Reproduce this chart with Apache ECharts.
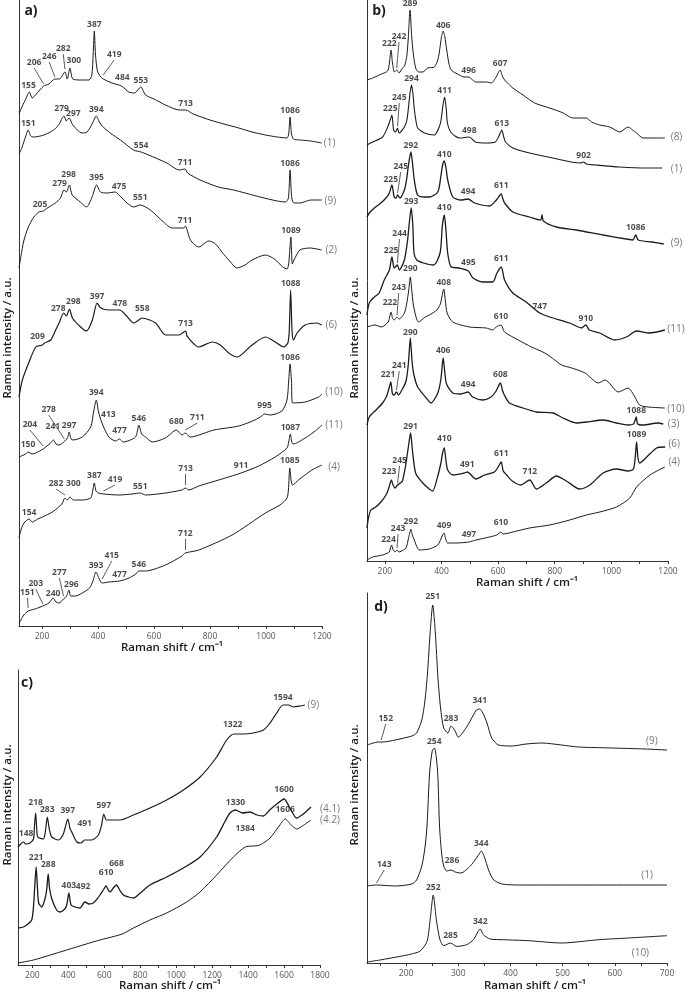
<!DOCTYPE html>
<html><head><meta charset="utf-8">
<script src="https://cdn.jsdelivr.net/npm/echarts@6/dist/echarts.min.js"></script>
<style>html,body{margin:0;padding:0;background:#fff}#c{width:685px;height:993px}</style>
</head><body><div id="c"></div>
<script>
// ---------- Panel a ----------
const aTicks = [200,400,600,800,1000,1200];
const aTickMarks = [200,300,400,500,600,700,800,900,1000,1100,1200];
const a1 = [[118,512],[130,520],[142,527],[155,534],[165,528],[180,532],[206,540],[225,542],[246,547],[262,547],[282,554],[290,547],[300,558],[310,547],[340,546],[368,546],[378,551],[383,572],[387,595],[391,572],[398,555],[410,549],[419,547],[450,543],[484,540],[510,534],[530,533],[553,539],[570,531],[600,527],[641,521],[690,516],[713,516],[740,512],[800,506],[850,502],[903,498],[950,494],[998,491],[1040,489],[1075,488],[1081,492],[1086,509],[1091,492],[1098,487],[1122,486],[1160,485],[1199,483]];
const a9 = [[118,472],[128,478],[140,488],[151,496],[160,490],[171,489],[207,491],[242,496],[262,502],[272,508],[279,510],[287,505],[297,508],[310,501],[343,493],[361,494],[379,502],[394,510],[405,504],[415,500],[444,493],[480,486],[527,476],[554,474],[581,471],[646,463],[690,456],[711,457],[720,453],[765,446],[830,439],[884,436],[979,429],[1040,425],[1070,424],[1080,428],[1086,456],[1092,428],[1100,423],[1121,423],[1160,426],[1199,426]];
const a2 = [[118,358],[125,370],[135,385],[150,398],[171,409],[189,414],[205,415],[219,418],[248,423],[266,428],[279,436],[287,434],[298,441],[308,431],[337,424],[359,419],[379,429],[395,441],[409,434],[432,433],[462,434],[475,431],[504,423],[527,419],[551,421],[587,416],[634,404],[665,398],[706,398],[712,400],[730,386],[760,379],[796,385],[820,382],[845,373],[867,366],[897,358],[925,361],[950,366],[998,371],[1030,367],[1060,359],[1075,357],[1081,362],[1089,389],[1094,362],[1100,366],[1121,376],[1157,378],[1199,376]];
const a6 = [[118,229],[130,246],[154,264],[178,279],[202,281],[209,283],[231,286],[249,296],[261,303],[278,313],[287,310],[298,317],[309,308],[338,299],[359,295],[380,306],[397,323],[410,318],[439,316],[478,316],[499,311],[528,303],[546,306],[558,308],[606,303],[641,291],[689,291],[713,295],[718,290],[760,279],[808,284],[837,281],[867,273],[897,269],[950,281],[998,289],[1033,284],[1063,279],[1078,283],[1083,295],[1088,336],[1093,295],[1098,286],[1111,293],[1140,301],[1182,303],[1199,301]];
const a10 = [[118,169],[142,172],[150,174],[165,172],[178,173],[204,177],[231,183],[241,186],[250,182],[261,181],[278,184],[291,188],[297,194],[304,187],[311,186],[344,189],[374,199],[385,215],[394,226],[402,214],[413,204],[425,196],[439,189],[463,185],[477,187],[490,184],[534,189],[546,201],[556,192],[570,189],[594,184],[641,188],[680,196],[700,191],[711,193],[730,189],[814,196],[903,200],[960,206],[985,210],[995,212],[1015,211],[1057,215],[1075,226],[1081,245],[1086,262],[1091,245],[1095,223],[1140,224],[1188,229],[1200,232]];
const a11 = [[118,88],[126,97],[136,103],[154,107],[166,104],[185,107],[202,109],[237,114],[260,119],[273,123],[282,128],[290,126],[300,129],[312,126],[344,126],[374,128],[381,135],[387,143],[393,135],[402,133],[419,132],[475,131],[522,132],[551,133],[570,131],[641,133],[700,136],[713,138],[724,136],[760,140],[855,148],[911,153],[974,160],[1033,169],[1075,178],[1081,184],[1087,192],[1092,184],[1097,182],[1140,188],[1176,195],[1200,201]];
const a4 = [[118,3],[125,6],[135,11],[151,15],[175,17],[203,20],[225,23],[240,28],[250,24],[261,23],[277,27],[288,30],[296,36],[303,30],[320,30],[344,33],[370,38],[382,45],[393,54],[403,48],[415,43],[440,44],[477,45],[511,48],[535,52],[546,55],[570,55],[641,61],[700,70],[712,73],[760,76],[879,91],[998,113],[1050,121],[1075,128],[1080,136],[1085,158],[1090,145],[1095,141],[1116,146],[1164,156],[1200,161]];
const aPeakLabels = [
 ['155',152,540],['206',172,563,206,541],['246',226,569,246,548],['282',276,577,282,556],['300',314,565],['387',387,601],['419',458,571,419,550],['484',487,548],['553',553,545],['713',713,522],['1086',1086,515],
 ['151',151,502],['279',270,517],['297',312,512],['394',394,516],['554',554,480],['711',711,463],['1086',1086,462],
 ['298',295,451],['279',263,442],['395',395,448],['475',475,439],['551',551,428],['205',193,421],['711',711,405],['1089',1089,395],
 ['1088',1088,342],['397',397,329],['298',312,324],['278',258,317],['478',478,322],['558',558,317],['713',713,302],['209',184,289],
 ['1086',1086,268],['394',394,233],['278',224,216,280,186],['413',437,211],['546',546,207],['680',680,204],['711',755,208,711,195],['995',995,220],['204',157,201,204,179],['241',239,199],['297',297,200],['477',477,195],['150',150,181],
 ['1087',1087,198],['911',911,160],['713',713,157,713,140],['387',387,150],['419',461,146,419,134],['551',551,139],['282',250,142,282,130],['300',312,142],['154',154,113],
 ['1085',1085,165],['712',712,92,712,75],['415',449,70,415,46],['393',393,60],['546',546,61],['477',477,51],['277',262,53,277,29],['296',305,41],['203',178,42,203,21],['240',240,32],['151',148,33,151,17]
];
const aNames = [['(1)',1227,483],['(9)',1230,425],['(2)',1233,376],['(6)',1233,301],['(10)',1243,234],['(11)',1243,201],['(4)',1243,159]];

// ---------- Panel b ----------
const bTicks = [200,400,600,800,1000,1200];
const bTickMarks = [200,300,400,500,600,700,800,900,1000,1100,1200];
const b8 = [[137,481],[157,483],[180,486],[205,489],[212,491],[217,500],[222,511],[227,498],[234,489],[242,491],[250,488],[262,493],[270,495],[278,506],[283,524],[289,551],[295,524],[301,506],[310,492],[320,489],[334,489],[351,493],[375,494],[388,502],[395,514],[400,524],[406,530],[412,524],[418,512],[426,498],[434,491],[463,486],[480,484],[496,484],[510,481],[522,479],[558,479],[576,478],[593,484],[600,488],[607,491],[615,485],[623,481],[652,473],[688,466],[729,458],[782,453],[830,448],[853,444],[865,443],[912,443],[930,439],[959,436],[994,434],[1030,429],[1059,434],[1075,431],[1089,428],[1112,423],[1160,423],[1189,423]];
const b1 = [[137,416],[157,419],[192,424],[210,434],[219,441],[225,446],[231,431],[238,429],[245,433],[250,428],[269,434],[278,441],[284,455],[289,468],[294,476],[299,468],[304,452],[310,440],[316,433],[340,428],[375,426],[392,434],[398,440],[405,455],[411,464],[417,452],[421,438],[435,428],[465,423],[498,424],[520,419],[560,418],[590,419],[603,425],[613,431],[620,424],[626,419],[652,413],[711,408],[793,403],[890,398],[902,399],[912,397],[945,396],[1030,394],[1120,393],[1180,393]];
const b9 = [[137,344],[145,348],[163,353],[186,358],[204,363],[216,368],[225,376],[233,364],[240,363],[245,366],[253,363],[269,371],[277,382],[284,397],[292,409],[298,397],[304,381],[316,366],[340,364],[357,364],[387,369],[398,385],[404,396],[410,400],[416,393],[422,381],[440,364],[469,361],[494,362],[516,358],[570,355],[594,361],[611,367],[617,362],[623,358],[652,349],[711,344],[750,341],[755,346],[760,340],[806,334],[876,331],[971,326],[1053,322],[1076,321],[1086,326],[1095,321],[1143,319],[1185,317]];
const b11 = [[137,246],[145,258],[163,264],[180,268],[198,281],[216,291],[225,304],[233,293],[244,296],[251,291],[269,301],[280,320],[287,340],[293,353],[299,335],[303,308],[313,301],[336,298],[372,296],[395,308],[403,335],[410,346],[416,330],[422,308],[434,294],[463,293],[495,290],[511,283],[546,279],[581,279],[596,288],[611,294],[623,281],[652,268],[699,259],[747,248],[782,244],[853,238],[895,233],[910,236],[922,231],[959,228],[1012,221],[1053,224],[1089,230],[1130,228],[1160,229],[1189,231]];
const b10 = [[137,234],[165,236],[188,234],[212,239],[217,244],[222,249],[227,243],[233,241],[243,244],[251,242],[269,248],[277,257],[284,270],[290,284],[296,268],[302,254],[319,239],[343,244],[357,246],[384,251],[396,257],[402,265],[408,272],[414,260],[420,248],[440,239],[499,234],[558,233],[581,231],[593,234],[610,236],[623,229],[671,221],[718,214],[765,208],[800,201],[824,196],[860,193],[907,188],[954,178],[978,181],[1025,169],[1059,173],[1083,164],[1100,156],[1130,154],[1189,153]];
const b3 = [[137,136],[145,144],[169,151],[192,158],[205,164],[210,168],[216,174],[221,179],[227,167],[233,166],[241,169],[248,166],[262,172],[275,180],[283,197],[290,223],[296,200],[302,187],[316,174],[346,163],[363,158],[387,168],[398,182],[406,203],[412,188],[418,177],[440,168],[469,167],[494,169],[510,164],[546,161],[575,164],[593,170],[608,178],[615,171],[622,166],[640,158],[688,153],[735,149],[794,148],[829,143],[876,138],[912,139],[971,141],[1018,138],[1060,136],[1078,137],[1083,140],[1088,144],[1093,137],[1112,136],[1165,138],[1183,137]];
const b6 = [[137,33],[142,43],[151,51],[168,54],[186,59],[204,66],[213,72],[218,77],[223,81],[229,76],[236,73],[245,76],[255,78],[262,80],[270,90],[278,104],[285,118],[291,128],[297,112],[303,97],[310,87],[334,78],[357,72],[369,70],[387,85],[398,98],[404,108],[410,113],[416,100],[422,91],[440,86],[481,88],[491,89],[522,82],[552,86],[587,89],[600,94],[611,99],[618,90],[630,86],[650,80],[680,76],[712,81],[735,72],[770,78],[806,85],[841,80],[888,72],[924,76],[971,88],[1018,92],[1060,90],[1078,92],[1084,103],[1089,119],[1094,103],[1100,98],[1125,104],[1160,113],[1190,114]];
const b4 = [[137,1],[157,4],[192,6],[210,8],[216,9],[220,13],[224,16],[228,12],[236,9],[243,11],[250,9],[265,11],[275,13],[283,22],[288,28],[292,32],[297,26],[304,21],[315,13],[322,11],[357,12],[387,16],[398,22],[404,26],[409,28],[415,22],[422,18],[452,18],[497,19],[522,21],[570,24],[595,26],[604,28],[610,29],[618,27],[652,29],[711,33],[782,36],[853,41],[912,46],[959,49],[1018,54],[1065,63],[1089,74],[1136,86],[1189,94]];
const bPeakLabels = [
 ['289',289,557],['406',406,535],['242',250,524,242,492],['222',216,517],['496',496,490],['607',607,497],
 ['294',294,482],['245',251,463,245,434],['411',411,470],['225',219,452],['498',498,430],['613',613,437],['902',902,405],
 ['292',292,415],['410',410,406],['245',256,394,245,367],['225',221,381],['494',494,369],['611',611,375],['1086',1086,333],
 ['293',293,359],['410',410,353],['244',252,327,244,297],['225',222,310],['495',495,298],['611',611,302],['747',747,254],['910',910,242],
 ['290',290,292],['408',408,278],['243',249,273,243,245],['222',218,258],['610',610,244],
 ['290',290,228],['406',406,210],['241',251,195,241,170],['221',211,186],['494',494,176],['608',608,186],['1088',1088,150],
 ['291',291,134],['410',410,122],['245',252,100,245,77],['223',215,89],['491',491,96],['611',611,107],['712',712,89],['1089',1089,126],
 ['292',292,39],['409',409,35],['243',247,32,243,12],['224',213,21],['497',497,26],['610',610,38]
];
const bNames = [['(8)',1230,424],['(1)',1230,392],['(9)',1230,318],['(11)',1228,232],['(10)',1228,152],['(3)',1220,137],['(6)',1222,117],['(4)',1222,99]];

// ---------- Panel c ----------
const cTicks = [200,400,600,800,1000,1200,1400,1600,1800];
const cTickMarks = [200,300,400,500,600,700,800,900,1000,1100,1200,1300,1400,1500,1600,1700,1800];
const c9 = [[120,118],[135,121],[148,123],[165,121],[187,122],[206,126],[212,140],[218,152],[224,137],[230,128],[261,126],[272,133],[283,148],[294,136],[308,128],[345,125],[370,130],[382,137],[397,146],[410,136],[419,133],[447,123],[470,122],[491,125],[530,125],[567,130],[585,140],[597,151],[612,145],[632,145],[688,145],[762,150],[854,157],[947,165],[1040,175],[1133,188],[1225,208],[1281,225],[1322,231],[1370,231],[1429,232],[1485,235],[1522,242],[1559,252],[1594,260],[1625,260],[1652,258],[1690,259],[1716,260]];
const c41 = [[120,37],[150,38],[168,40],[196,45],[206,58],[213,78],[221,98],[228,78],[235,62],[252,58],[270,66],[280,76],[288,91],[296,76],[310,65],[335,55],[354,53],[380,56],[391,60],[403,72],[415,60],[437,58],[465,57],[492,63],[515,61],[539,62],[560,66],[576,70],[598,76],[610,79],[622,75],[632,73],[650,77],[668,80],[685,75],[706,70],[735,68],[762,67],[800,72],[854,80],[947,88],[1040,97],[1133,108],[1225,128],[1270,143],[1299,152],[1330,155],[1370,152],[1410,153],[1450,150],[1485,149],[1520,155],[1560,161],[1600,166],[1630,158],[1670,147],[1700,150],[1726,154],[1750,158]];
const c42 = [[120,2],[206,5],[300,10],[391,15],[500,21],[576,25],[700,31],[762,37],[854,45],[947,52],[1058,63],[1133,73],[1225,90],[1318,108],[1384,118],[1430,119],[1466,120],[1522,127],[1577,140],[1606,146],[1640,140],[1670,136],[1710,140],[1750,145]];
const cPeakLabels = [
 ['148',165,131],['218',218,162],['283',283,155],['397',397,154],['491',491,141],['597',597,159],['1322',1314,240],['1594',1594,267],
 ['221',221,107],['288',288,100],['403',403,79],['492',482,78],['610',610,92],['668',668,101],['1330',1330,162],['1600',1600,175],
 ['1384',1384,136],['1606',1606,155]
];
const cNames = [['(9)',1763,260],['(4.1)',1856,156],['(4.2)',1856,145]];

// ---------- Panel d ----------
const dTicks = [200,300,400,500,600,700];
const dTickMarks = [150,200,250,300,350,400,450,500,550,600,650,700];
const d9 = [[125,218],[147,221],[156,221],[179,223],[211,227],[220,230],[230,243],[236,262],[241,290],[246,330],[251,358],[256,330],[261,285],[266,255],[272,235],[280,230],[286,237],[293,233],[300,226],[316,236],[329,248],[335,253],[341,254],[347,250],[355,240],[364,225],[377,218],[403,217],[430,219],[460,220],[498,218],[530,216],[594,215],[658,214],[700,213]];
const d1 = [[125,77],[143,78],[179,77],[211,79],[220,83],[230,97],[236,115],[240,137],[245,190],[250,212],[254,215],[258,205],[261,185],[264,137],[268,110],[272,97],[278,92],[286,93],[294,91],[305,90],[323,97],[332,103],[340,109],[344,112],[350,106],[358,93],[368,83],[384,79],[415,78],[531,78],[700,78]];
const d10 = [[125,1],[150,3],[188,6.6],[210,9],[227,12],[240,21.6],[246,43],[252,68],[258,43],[265,23],[272,17.3],[285,20],[297,16.6],[316,18.3],[329,23.3],[342,34],[348,28.3],[361,24],[386,23.3],[435,22.3],[498,20],[569,23.3],[626,25],[700,27.3]];
const dPeakLabels = [
 ['251',251,366],['152',161,244,152,222],['283',286,244],['341',341,262],
 ['254',254,221],['143',158,98,143,79],['286',288,102],['344',344,119],
 ['252',252,75],['285',285,27],['342',342,41]
];
const dNames = [['(9)',671,222],['(1)',662,88],['(10)',649,10]];

// ---------- build ----------
const FONT = '"Open Sans", "Liberation Sans", sans-serif';
const panels = [
  {grid:{left:19, top:0, width:303, height:626}, xr:[118,1200], h:626, ticks:aTicks, marks:aTickMarks, spectra:[a1,a9,a2,a6,a10,a11,a4], widths:[1,1,1,1.2,1,1,1], peaks:aPeakLabels, names:aNames},
  {grid:{left:367, top:0, width:301, height:561}, xr:[137,1200], h:561, ticks:bTicks, marks:bTickMarks, spectra:[b8,b1,b9,b11,b10,b3,b6,b4], widths:[1,1.1,1.3,1.3,1,1.3,1.3,1], peaks:bPeakLabels, names:bNames},
  {grid:{left:18, top:670, width:302, height:295}, xr:[120,1800], h:295, ticks:cTicks, marks:cTickMarks, spectra:[c9,c41,c42], widths:[1.2,1.3,1], peaks:cPeakLabels, names:cNames},
  {grid:{left:367, top:593, width:300, height:370}, xr:[125,700], h:370, ticks:dTicks, marks:dTickMarks, spectra:[d9,d1,d10], widths:[1,1,1], peaks:dPeakLabels, names:dNames}
];
const grids=[], xAxes=[], yAxes=[], series=[];
panels.forEach((p,i)=>{
  grids.push(Object.assign({containLabel:false}, p.grid));
  xAxes.push({gridIndex:i, type:'value', min:p.xr[0], max:p.xr[1],
    axisLine:{show:true, onZero:false, lineStyle:{color:'#333', width:1}},
    axisTick:{show:true, customValues:p.marks, length:3, lineStyle:{color:'#333', width:1}},
    axisLabel:{show:true, customValues:p.ticks, formatter:v=>String(Math.round(v)), color:'#555', fontSize:8.5, margin:6, fontFamily:FONT},
    splitLine:{show:false}});
  yAxes.push({gridIndex:i, type:'value', min:0, max:p.h,
    axisLine:{show:true, onZero:false, lineStyle:{color:'#333', width:1}},
    axisTick:{show:false}, axisLabel:{show:false}, splitLine:{show:false}});
  p.spectra.forEach((s,k)=>{
    series.push({type:'line', xAxisIndex:i, yAxisIndex:i, data:s, showSymbol:false, symbol:'none',
      smooth:0.25, lineStyle:{color:'#1b1b1b', width:p.widths[k]}, silent:true, z:2});
  });
  series.push({type:'scatter', xAxisIndex:i, yAxisIndex:i, clip:false, silent:true, symbolSize:1,
    itemStyle:{color:'rgba(0,0,0,0)'}, z:5,
    data:p.peaks.map(l=>[l[1],l[2],l[0]]),
    label:{show:true, position:'inside', formatter:q=>q.value[2], color:'#1b1b1b', fontSize:8.5, fontWeight:'bold', fontFamily:FONT}});
  series.push({type:'scatter', xAxisIndex:i, yAxisIndex:i, clip:false, silent:true, symbolSize:1,
    itemStyle:{color:'rgba(0,0,0,0)'}, z:5,
    data:p.names.map(l=>[l[1],l[2],l[0]]),
    label:{show:true, position:'inside', formatter:q=>q.value[2], color:'#555', fontSize:10, fontFamily:FONT}});
  const leaders = p.peaks.filter(l=>l.length===5).map(l=>({coords:[[l[1],l[2]-5],[l[3],l[4]+1]]}));
  if(leaders.length) series.push({type:'lines', coordinateSystem:'cartesian2d', xAxisIndex:i, yAxisIndex:i,
    data:leaders, silent:true, lineStyle:{color:'#333', width:0.8, opacity:1}, z:4});
});
function txt(x,y,text,font,opts){return Object.assign({type:'text', x:x, y:y, silent:true,
  style:Object.assign({text:text, font:font, fill:'#1b1b1b', textAlign:'center', textVerticalAlign:'middle', align:'center', verticalAlign:'middle'}, opts||{})});}
const titleFont = '600 11.5px "Open Sans", sans-serif';
const letterFont = 'bold 14px "Open Sans", sans-serif';
const graphics = [
  txt(172,648,'Raman shift / cm\u207B\u00B9',titleFont),
  txt(527,583,'Raman shift / cm\u207B\u00B9',titleFont),
  txt(170,986,'Raman shift / cm\u207B\u00B9',titleFont),
  txt(535,986,'Raman shift / cm\u207B\u00B9',titleFont),
  Object.assign(txt(8,338,'Raman intensity / a.u.',titleFont),{rotation:Math.PI/2}),
  Object.assign(txt(355,338,'Raman intensity / a.u.',titleFont),{rotation:Math.PI/2}),
  Object.assign(txt(8,805,'Raman intensity / a.u.',titleFont),{rotation:Math.PI/2}),
  Object.assign(txt(355,785,'Raman intensity / a.u.',titleFont),{rotation:Math.PI/2}),
  txt(31,11,'a)',letterFont),
  txt(379,11,'b)',letterFont),
  txt(27,683,'c)',letterFont),
  txt(381,607,'d)',letterFont)
];
const chart = echarts.init(document.getElementById('c'), null, {renderer:'canvas'});
chart.setOption({animation:false, backgroundColor:'#fff', grid:grids, xAxis:xAxes, yAxis:yAxes, series:series, graphic:graphics});
</script></body></html>
